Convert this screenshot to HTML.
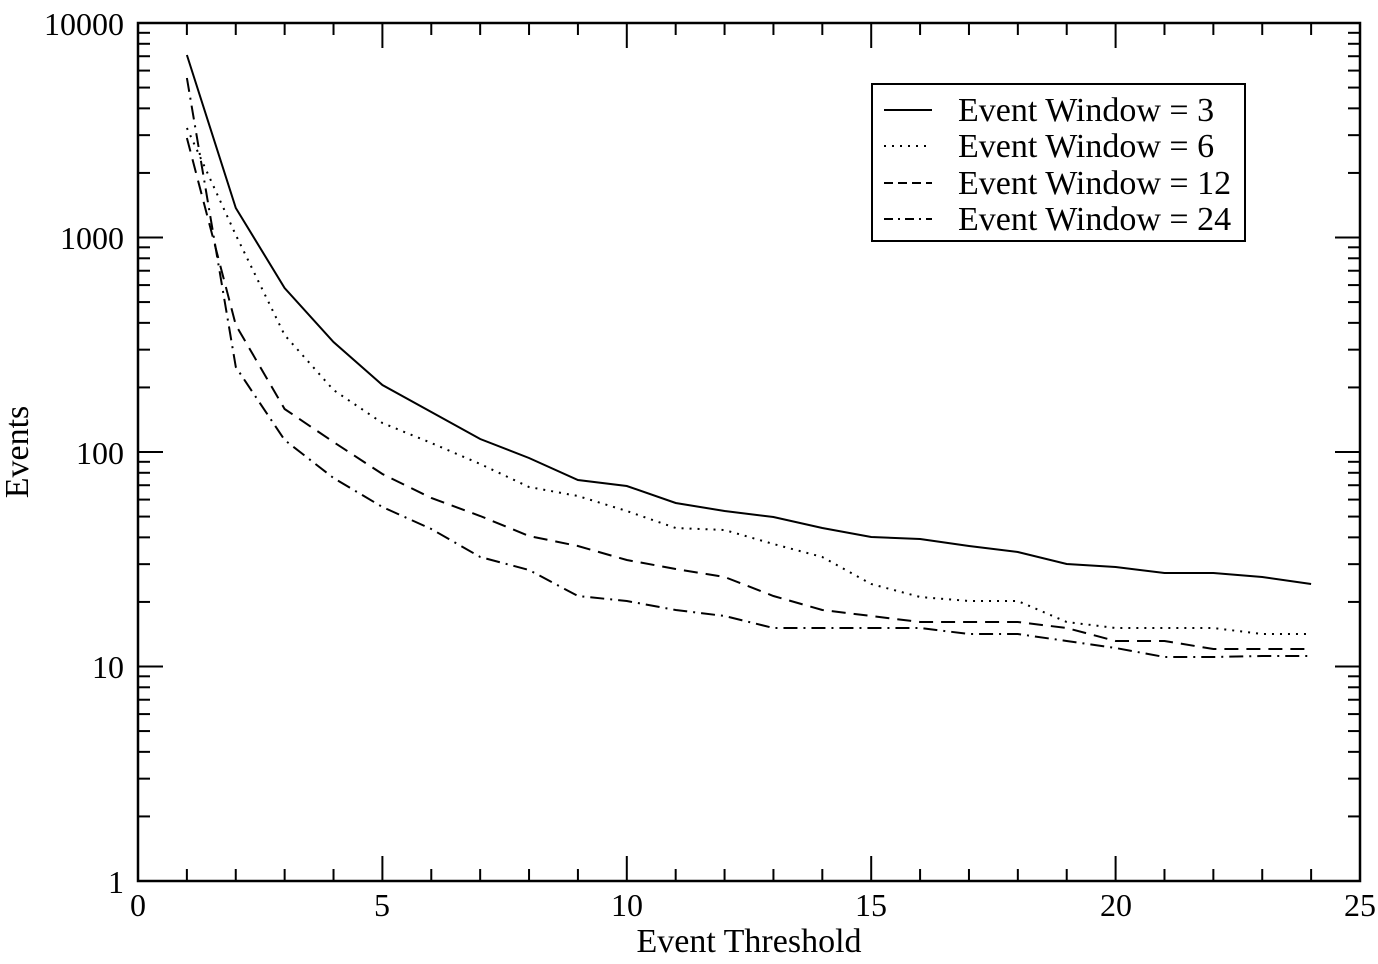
<!DOCTYPE html>
<html><head><style>body{margin:0;background:#fff}svg{display:block}</style></head><body>
<svg width="1378" height="964" xmlns="http://www.w3.org/2000/svg" font-family="Liberation Serif, serif" font-size="33">
<rect width="1378" height="964" fill="#fff"/>
<g id="ticks" stroke="#000" stroke-width="2"></g>
<rect x="138" y="23" width="1222" height="858" fill="none" stroke="#000" stroke-width="2.5"/>
<g fill="none" stroke="#000" stroke-width="2">
<polyline id="s1" points=""/>
<polyline id="s2" stroke-dasharray="2,6" points=""/>
<polyline id="s3" stroke-dasharray="14,8" points=""/>
<polyline id="s4" stroke-dasharray="14,6,2,6" points=""/>
</g>
<g text-anchor="end" font-size="32">
<text x="124" y="35">10000</text><text x="124" y="249">1000</text><text x="124" y="464">100</text><text x="124" y="678">10</text><text x="124" y="893">1</text>
</g>
<g text-anchor="middle" font-size="32">
<text x="138" y="916">0</text><text x="382" y="916">5</text><text x="627" y="916">10</text><text x="871" y="916">15</text><text x="1116" y="916">20</text><text x="1360" y="916">25</text>
<text x="749" y="952" font-size="34">Event Threshold</text>
<text transform="translate(28,452) rotate(-90)" font-size="34">Events</text>
</g>
<rect x="872" y="84" width="373" height="157" fill="#fff" stroke="#000" stroke-width="2"/>
<g stroke="#000" stroke-width="2">
<line x1="884" y1="110" x2="932" y2="110"/>
<line x1="884" y1="146" x2="932" y2="146" stroke-dasharray="2,6"/>
<line x1="884" y1="183" x2="932" y2="183" stroke-dasharray="9,5"/>
<line x1="884" y1="219" x2="932" y2="219" stroke-dasharray="9,5,2,5"/>
</g>
<g font-size="34">
<text x="958" y="121">Event Window = 3</text>
<text x="958" y="157">Event Window = 6</text>
<text x="958" y="194">Event Window = 12</text>
<text x="958" y="230">Event Window = 24</text>
</g>
</svg>
<script>
const d=[[55,208,288,342,385,412,439,458,480,486,503,511,517,528,537,539,546,552,564,567,573,573,577,584],
[128,235,335,390,423,443,464,487,496,511,528,530,544,557,584,597,601,601,622,628,628,628,634,634],
[138,325,409,442,474,498,516,536,546,560,569,577,596,610,616,622,622,622,628,641,641,649,649,649],
[78,367,440,478,507,529,557,570,596,601,610,616,628,628,628,628,634,634,641,648,657,657,656,656]];
d.forEach((a,i)=>{document.getElementById('s'+(i+1)).setAttribute('points',a.map((y,k)=>(138+48.88*(k+1)).toFixed(1)+','+y).join(' '));});
let t='';
for(let k=0;k<=25;k++){const x=138+48.88*k,L=k%5?12:25;t+=`<line x1="${x}" y1="881" x2="${x}" y2="${881-L}"/><line x1="${x}" y1="23" x2="${x}" y2="${23+L}"/>`;}
for(let e=0;e<4;e++)for(let m=1;m<=10;m++){const y=881-214.5*(e+Math.log10(m));const L=m==1||m==10?25:12;t+=`<line x1="138" y1="${y}" x2="${138+L}" y2="${y}"/><line x1="1360" y1="${y}" x2="${1360-L}" y2="${y}"/>`;}
document.getElementById('ticks').innerHTML=t;
</script>
</body></html>
